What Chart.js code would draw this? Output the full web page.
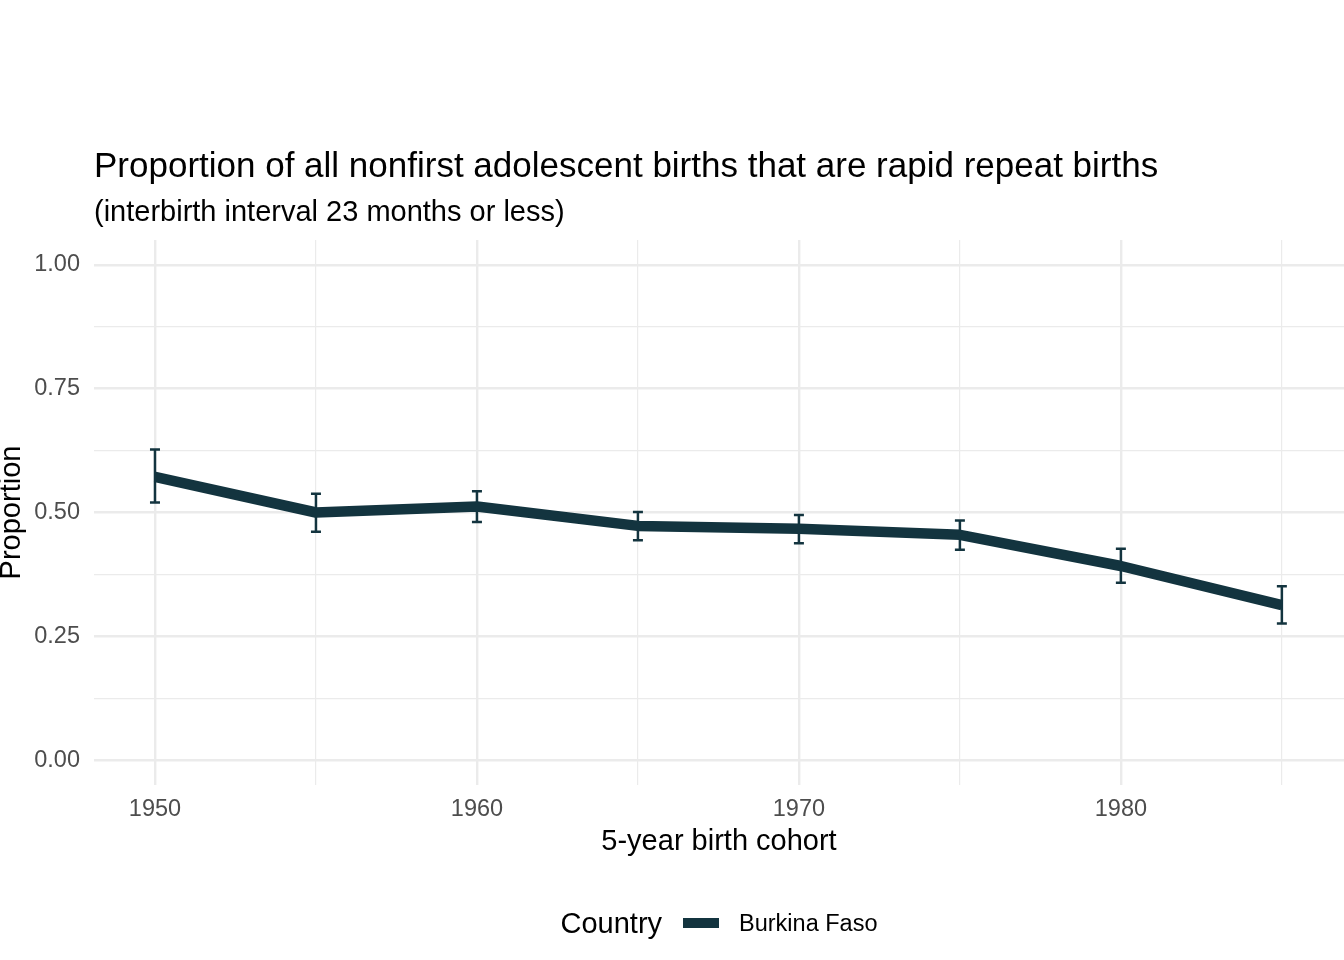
<!DOCTYPE html>
<html>
<head>
<meta charset="utf-8">
<script src="https://cdn.jsdelivr.net/npm/chart.js@4.4.1/dist/chart.umd.min.js"></script>
<style>
  body { margin: 0; background: #fff; font-family: "Liberation Sans", Arial, Helvetica, sans-serif; }
  #wrap { position: relative; width: 1344px; height: 960px; }
  #legend { position: absolute; left: 94px; width: 1250px; top: 902px; height: 42px;
            display: flex; align-items: center; justify-content: center; }
  #legend .ttl { font-size: 29px; color: #000; margin-right: 21px; }
  #legend .key { width: 36px; height: 10px; margin-right: 20px; }
  #legend .lbl { font-size: 23.5px; color: #000; }
</style>
</head>
<body>
<div id="wrap">
  <canvas id="chart" width="1344" height="960"></canvas>
  <div id="legend"></div>
</div>
<script>
const years = [1950, 1955, 1960, 1965, 1970, 1975, 1980, 1985]
const proportion = [0.572, 0.500, 0.512, 0.473, 0.467, 0.455, 0.392, 0.313]
const lower = [0.520, 0.461, 0.481, 0.444, 0.438, 0.425, 0.358, 0.276]
const upper = [0.627, 0.538, 0.543, 0.501, 0.495, 0.484, 0.427, 0.351]
const country = 'Burkina Faso'

const xGrid = [1950, 1955, 1960, 1965, 1970, 1975, 1980, 1985]
const xLabels = [1950, 1960, 1970, 1980]
const yGrid = [0, 0.125, 0.25, 0.375, 0.5, 0.625, 0.75, 0.875, 1]
const yLabels = [0, 0.25, 0.5, 0.75, 1]

const lineColor = '#13343f'
const font = '"Liberation Sans", Arial, Helvetica, sans-serif'

// error bars drawn under the line, positions come from the scales
const errorBars = {
    id: 'errorBars',
    beforeDatasetsDraw(chart) {
        const {ctx, scales: {x, y}} = chart
        ctx.save()
        ctx.strokeStyle = lineColor
        ctx.lineWidth = 2.5
        years.forEach((yr, i) => {
            const px = x.getPixelForValue(yr)
            const top = y.getPixelForValue(upper[i])
            const bot = y.getPixelForValue(lower[i])
            ctx.beginPath()
            ctx.moveTo(px, top); ctx.lineTo(px, bot)
            ctx.moveTo(px - 5, top); ctx.lineTo(px + 5, top)
            ctx.moveTo(px - 5, bot); ctx.lineTo(px + 5, bot)
            ctx.stroke()
        })
        ctx.restore()
    }
}

new Chart(document.getElementById('chart'), {
    type: 'line',
    data: {
        datasets: [{
            label: country,
            data: years.map((yr, i) => ({x: yr, y: proportion[i]})),
            borderColor: lineColor,
            backgroundColor: lineColor,
            borderWidth: 10.5,
            borderJoinStyle: 'round',
            borderCapStyle: 'butt',
            pointRadius: 0,
            tension: 0
        }]
    },
    options: {
        responsive: false,
        animation: false,
        layout: { padding: { top: 100, bottom: 95, left: 0, right: 0 } },
        plugins: {
            legend: { display: false },
            tooltip: { enabled: false },
            title: {
                display: true,
                text: 'Proportion of all nonfirst adolescent births that are rapid repeat births',
                align: 'start',
                fullSize: false,
                color: '#000',
                font: { family: font, size: 35, weight: 'normal' },
                padding: { top: 46, bottom: 0 }
            },
            subtitle: {
                display: true,
                text: '(interbirth interval 23 months or less)',
                align: 'start',
                fullSize: false,
                color: '#000',
                font: { family: font, size: 29, weight: 'normal' },
                padding: { top: 7.6, bottom: 9.6 }
            }
        },
        scales: {
            x: {
                type: 'linear',
                min: 1948.106,
                max: 1986.93,
                afterBuildTicks: s => { s.ticks = xGrid.map(v => ({value: v})) },
                afterFit: s => { s.height = 80 },
                border: { display: false },
                grid: {
                    drawTicks: false,
                    color: '#ebebeb',
                    lineWidth: c => xLabels.includes(c.tick.value) ? 2.4 : 1.2
                },
                ticks: {
                    padding: 10,
                    color: '#4d4d4d',
                    maxRotation: 0,
                    autoSkip: false,
                    font: { family: font, size: 23.5 },
                    callback: v => xLabels.includes(v) ? String(v) : ''
                },
                title: {
                    display: true,
                    text: '5-year birth cohort',
                    color: '#000',
                    font: { family: font, size: 29 },
                    padding: { top: 0, bottom: 5.6 }
                }
            },
            y: {
                min: -0.05,
                max: 1.05,
                afterBuildTicks: s => { s.ticks = yGrid.map(v => ({value: v})) },
                afterFit: s => { s.width = 94 },
                border: { display: false },
                grid: {
                    drawTicks: false,
                    color: '#ebebeb',
                    lineWidth: c => yLabels.includes(c.tick.value) ? 2.4 : 1.2
                },
                ticks: {
                    padding: 14,
                    color: '#4d4d4d',
                    autoSkip: false,
                    font: { family: font, size: 23.5 },
                    callback: v => yLabels.includes(v) ? v.toFixed(2) : ''
                },
                title: {
                    display: true,
                    text: 'Proportion',
                    color: '#000',
                    font: { family: font, size: 29, lineHeight: 0.8 },
                    padding: { top: 0, bottom: 0 }
                }
            }
        }
    },
    plugins: [errorBars]
})

const legend = document.getElementById('legend')
legend.innerHTML = '<span class="ttl">Country</span>' +
    '<span class="key" style="background:' + lineColor + '"></span>' +
    '<span class="lbl">' + country + '</span>'
</script>
</body>
</html>
